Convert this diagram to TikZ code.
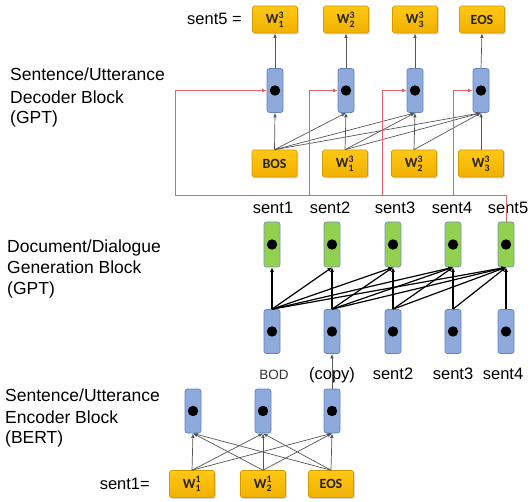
\documentclass[tikz,border=0pt]{standalone}
\usepackage{fontspec}
\usepackage{amsmath}
\setmainfont{Liberation Sans}
\newfontfamily\boxfont{Carlito}
\usetikzlibrary{arrows.meta,shadows}
\definecolor{ytop}{RGB}{255,200,20}
\definecolor{ybot}{RGB}{240,176,0}
\definecolor{ybord}{RGB}{210,155,0}
\definecolor{ytext}{RGB}{40,35,20}
\definecolor{bfill}{RGB}{142,169,219}
\definecolor{bbord}{RGB}{100,130,190}
\definecolor{gfill}{RGB}{146,208,80}
\definecolor{gbord}{RGB}{120,145,185}
\definecolor{redl}{RGB}{226,100,100}
\definecolor{grayl}{RGB}{85,85,85}
\begin{document}
\begin{tikzpicture}[x=1pt,y=-1pt,
  ybox/.style={rectangle, rounded corners=1.5pt, minimum width=45pt, minimum height=27pt, inner sep=0pt,
    top color=ytop, bottom color=ybot, draw=ybord, line width=0.6pt, text=ytext,
    font=\boxfont\bfseries\fontsize{14}{14}\selectfont,
    drop shadow={shadow xshift=1.3pt, shadow yshift=-1.3pt, opacity=0.3}},
  cellbase/.style={rectangle, rounded corners=2.5pt, minimum width=16pt, inner sep=0pt, line width=0.7pt,
    path picture={\fill[black] (path picture bounding box.center) circle (5.2pt);}},
  bcell/.style={cellbase, minimum height=44pt, fill=bfill, draw=bbord},
  gcell/.style={cellbase, minimum height=45pt, fill=gfill, draw=gbord},
  garrow/.style={draw=grayl, line width=0.7pt, -{Latex[length=4.5pt,width=3.5pt]}},
  karrow/.style={draw=black, line width=1.2pt, -{Latex[length=4.5pt,width=4pt]}},
  redarrow/.style={draw=redl, line width=0.8pt, -{Latex[length=4.5pt,width=4pt]}},
  lbl/.style={anchor=base west, inner sep=0pt, font=\fontsize{17.5}{21}\selectfont},
  slbl/.style={anchor=base, inner sep=0pt, font=\fontsize{16.5}{20}\selectfont},
]
\useasboundingbox (0,0) rectangle (532,502);

% ---------------- Decoder block ----------------
\node[ybox] (o1) at (275,19.5) {W$_{\textbf{1}}^{\textbf{3}}$};
\node[ybox] (o2) at (346,19.5) {W$_{\textbf{2}}^{\textbf{3}}$};
\node[ybox] (o3) at (415,19.5) {W$_{\textbf{3}}^{\textbf{3}}$};
\node[ybox] (o4) at (482,19.5) {EOS};

\node[bcell] (d1) at (275,90.5) {};
\node[bcell] (d2) at (346,90.5) {};
\node[bcell] (d3) at (415,90.5) {};
\node[bcell] (d4) at (481,90.5) {};

\node[ybox] (i1) at (274.5,163.5) {BOS};
\node[ybox] (i2) at (345,163.5) {W$_{\textbf{1}}^{\textbf{3}}$};
\node[ybox] (i3) at (414,163.5) {W$_{\textbf{2}}^{\textbf{3}}$};
\node[ybox] (i4) at (481,163.5) {W$_{\textbf{3}}^{\textbf{3}}$};

\foreach \j in {1,...,4}{
  \draw[garrow] (d\j.north) -- (o\j.south);
  \foreach \i in {1,...,\j}{
    \draw[garrow] (i\i.north) -- (d\j.south);
  }
}

\node[slbl, anchor=base east] (s5eq) at (242,24.5) {sent5 =};

% ---------------- Document block ----------------
\node[gcell] (g1) at (272,244.5) {};
\node[gcell] (g2) at (332,244.5) {};
\node[gcell] (g3) at (393,244.5) {};
\node[gcell] (g4) at (453,244.5) {};
\node[gcell] (g5) at (506,244.5) {};

\node[bcell] (m1) at (272,331.5) {};
\node[bcell] (m2) at (332,331.5) {};
\node[bcell] (m3) at (393,331.5) {};
\node[bcell] (m4) at (453,331.5) {};
\node[bcell] (m5) at (506,331.5) {};

\foreach \j in {1,...,5}{
  \foreach \i in {1,...,\j}{
    \draw[karrow] (m\i.north) -- (g\j.south);
  }
}

\node[slbl] (t1) at (273,214) {sent1};
\node[slbl] (t2) at (330,214) {sent2};
\node[slbl] (t3) at (395,214) {sent3};
\node[slbl] (t4) at (452,214) {sent4};
\node[slbl] (t5) at (508,214) {sent5};

\node[slbl, font=\fontsize{13.5}{16}\selectfont, text=black!80] (b1) at (274,379) {BOD};
\node[slbl] (b2) at (332,379) {(copy)};
\node[slbl] (b3) at (393,379) {sent2};
\node[slbl] (b4) at (453,379) {sent3};
\node[slbl] (b5) at (503,379) {sent4};

% red feedback lines
\draw[redarrow] (g5.north) |- (175,195) |- (d1.west);
\draw[redarrow] (309,195) |- (d2.west);
\draw[redarrow] (382,195) |- (d3.west);
\draw[redarrow] (453,195) |- (d4.west);

% ---------------- Encoder block ----------------
\node[bcell] (e1) at (193,411) {};
\node[bcell] (e2) at (263,411) {};
\node[bcell] (e3) at (332,411) {};

\node[ybox] (w1) at (192,484) {W$_{\textbf{1}}^{\textbf{1}}$};
\node[ybox] (w2) at (263,484) {W$_{\textbf{2}}^{\textbf{1}}$};
\node[ybox] (w3) at (331,484) {EOS};

\foreach \j in {1,2,3}{
  \foreach \i in {1,2,3}{
    \draw[garrow] (w\i.north) -- (e\j.south);
  }
}
\draw[garrow] (e3.north) -- (m2.south);

\node[slbl, anchor=base east] (s1eq) at (150,489) {sent1=};

% ---------------- Left labels ----------------
\node[lbl] (la1) at (10,81) {Sentence/Utterance};
\node[lbl] (la2) at (10,103.5) {Decoder Block};
\node[lbl] (la3) at (10,124) {(GPT)};

\node[lbl] (lb1) at (7,253) {Document/Dialogue};
\node[lbl] (lb2) at (7,274) {Generation Block};
\node[lbl] (lb3) at (7,294.5) {(GPT)};

\node[lbl] (lc1) at (5,401) {Sentence/Utterance};
\node[lbl] (lc2) at (5,423.5) {Encoder Block};
\node[lbl] (lc3) at (5,443) {(BERT)};
\end{tikzpicture}
\end{document}
